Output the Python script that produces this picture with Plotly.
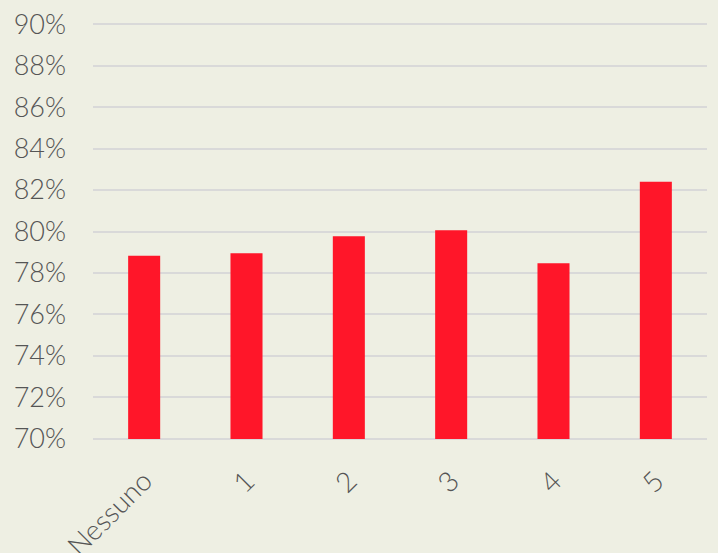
import plotly.graph_objects as go

categories = ["Nessuno", "1", "2", "3", "4", "5"]
values = [0.7883, 0.7895, 0.7977, 0.8006, 0.7847, 0.8240]
y_ticks = [0.70 + 0.02 * i for i in range(11)]
y_tick_labels = [f"{round(v*100)}%" for v in y_ticks]
axis_min = 0.70

bg = "#EEEFE3"
fig = go.Figure(go.Bar(
    x=categories, y=[v - axis_min for v in values], base=axis_min,
    marker=dict(color="#FF1629", line=dict(width=0)),
))
fig.update_layout(
    width=718, height=553,
    margin=dict(l=93, r=11, t=21, b=111),
    paper_bgcolor=bg, plot_bgcolor=bg,
    bargap=0.687,
    showlegend=False,
    font=dict(family="Lato", color="#555555"),
)
fig.update_yaxes(
    range=[0.6985, 0.9015], tickvals=y_ticks, ticktext=y_tick_labels,
    tickfont=dict(size=27, color="#555555", family="Lato", weight=300),
    gridcolor="#D9D9D9", gridwidth=1.5, zeroline=False, showline=False,
    ticklabelstandoff=26, automargin=False,
)
fig.update_xaxes(
    tickangle=-45, tickfont=dict(size=28, color="#555555", family="Lato", weight=300),
    showline=False, showgrid=False, ticklabelstandoff=16, automargin=False,
)
fig.write_html("out.html")
